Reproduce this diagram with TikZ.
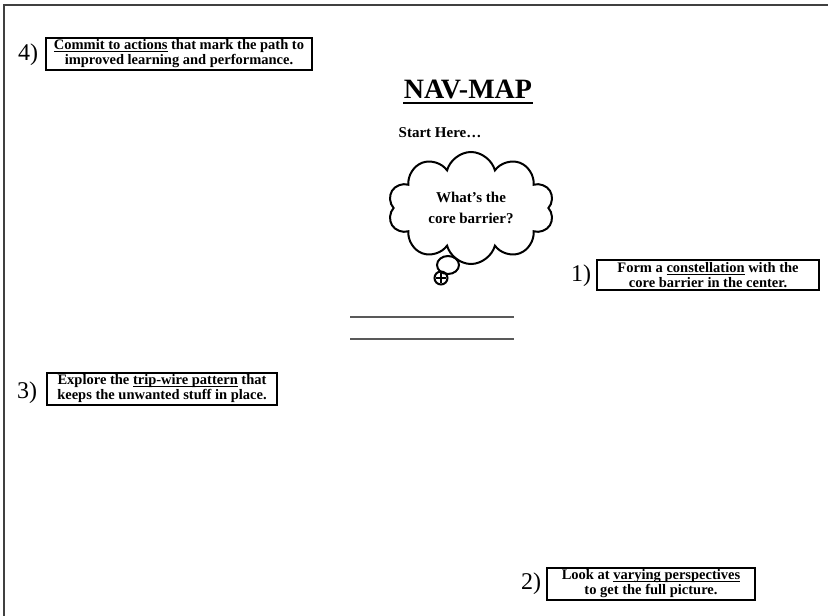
\documentclass[tikz,border=0pt]{standalone}
\usepackage{fontspec}
\setmainfont{Liberation Serif}
\usetikzlibrary{shapes.symbols}
\newcommand\ulword[1]{\setbox0\hbox{#1}\rlap{\rule[-2.2pt]{\wd0}{0.9pt}}\box0\relax}

\begin{document}
\begin{tikzpicture}[x=1pt, y=-1pt, line width=1pt,
    stepbox/.style={draw, line width=2.2pt, inner sep=2pt, align=center, font=\bfseries\fontsize{14.5}{15}\selectfont},
    stepnum/.style={inner sep=0pt, font=\fontsize{24}{24}\selectfont}]
    \useasboundingbox (0,0) rectangle (828,616);
    \draw[line width=2pt, black!75] (4,616) -- (4,5) -- (828,5);

    \node[stepnum] (num4) at (28,55) {4)};
    \node[stepbox, minimum width=266pt] (box4) at (179,54) {\ulword{Commit to actions} that mark the path to\\improved learning and performance.};

    \node[inner sep=0pt, font=\bfseries\fontsize{28}{30}\selectfont] (title) at (468,89) {NAV-MAP};
    \draw[line width=2pt] ([yshift=-4pt]title.south west) -- ([yshift=-4pt]title.south east);
    \node[font=\bfseries\fontsize{15}{18}\selectfont] (start) at (440,133) {Start Here…};

    \node[cloud, draw, cloud puffs=10, aspect=1.5, minimum width=166pt, minimum height=112pt, line width=2pt, inner sep=0pt, align=center, font=\bfseries\fontsize{15}{21}\selectfont] (barrier) at (471,208) {What’s the\\core barrier?};
    \draw[line width=2pt] (448,265) ellipse [x radius=11pt, y radius=9pt];
    \draw[line width=2pt] (441,278) circle [radius=6.5pt];
    \draw[line width=1.5pt] (436,278) -- (446,278) (441,273) -- (441,283);

    \node[stepnum] (num1) at (581,276) {1)};
    \node[stepbox, minimum width=222pt] (box1) at (708,275) {Form a \ulword{constellation} with the\\core barrier in the center.};

    \draw[line width=1.6pt, black!65] (350,317) -- (514,317);
    \draw[line width=1.6pt, black!65] (350,339) -- (514,339);

    \node[stepnum] (num3) at (27,393) {3)};
    \node[stepbox, minimum width=230pt] (box3) at (162,389) {Explore the \ulword{trip-wire pattern} that\\keeps the unwanted stuff in place.};

    \node[stepnum] (num2) at (531,584) {2)};
    \node[stepbox, minimum width=208pt] (box2) at (651,584) {Look at \ulword{varying perspectives}\\to get the full picture.};
\end{tikzpicture}
\end{document}
